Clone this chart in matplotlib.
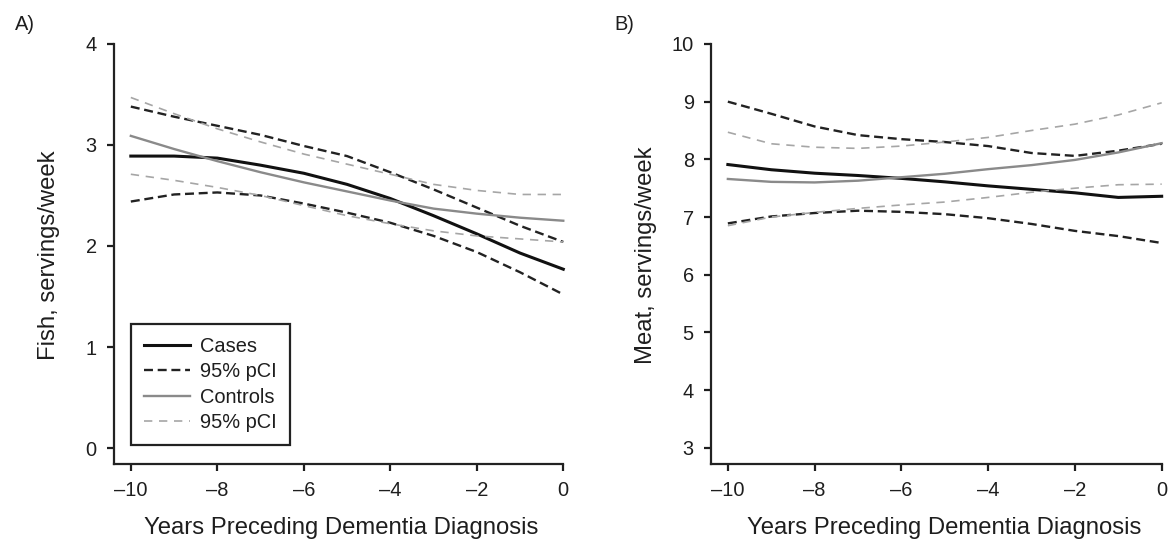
import numpy as np
import matplotlib.pyplot as plt

plt.rcParams['font.family'] = ['Liberation Sans', 'DejaVu Sans']

years = [-10, -9, -8, -7, -6, -5, -4, -3, -2, -1, 0]

# A) Fish
fish_cases = [2.89, 2.89, 2.87, 2.80, 2.72, 2.61, 2.47, 2.30, 2.12, 1.93, 1.77]
fish_cases_hi = [3.38, 3.28, 3.19, 3.10, 2.99, 2.89, 2.73, 2.56, 2.38, 2.20, 2.04]
fish_cases_lo = [2.44, 2.51, 2.53, 2.50, 2.42, 2.33, 2.23, 2.10, 1.94, 1.74, 1.52]
fish_ctrl = [3.09, 2.96, 2.84, 2.73, 2.63, 2.54, 2.45, 2.37, 2.32, 2.28, 2.25]
fish_ctrl_hi = [3.47, 3.31, 3.16, 3.03, 2.91, 2.81, 2.71, 2.61, 2.55, 2.51, 2.51]
fish_ctrl_lo = [2.71, 2.65, 2.58, 2.50, 2.40, 2.30, 2.22, 2.15, 2.10, 2.07, 2.04]

# B) Meat
meat_cases = [7.91, 7.82, 7.76, 7.72, 7.67, 7.61, 7.54, 7.48, 7.42, 7.34, 7.36]
meat_cases_hi = [9.00, 8.79, 8.57, 8.42, 8.35, 8.30, 8.23, 8.11, 8.06, 8.15, 8.27]
meat_cases_lo = [6.89, 7.01, 7.07, 7.11, 7.09, 7.05, 6.98, 6.88, 6.76, 6.67, 6.55]
meat_ctrl = [7.66, 7.61, 7.60, 7.63, 7.69, 7.75, 7.83, 7.90, 7.99, 8.12, 8.28]
meat_ctrl_hi = [8.47, 8.27, 8.21, 8.19, 8.23, 8.30, 8.38, 8.50, 8.61, 8.77, 8.98]
meat_ctrl_lo = [6.85, 7.00, 7.08, 7.15, 7.21, 7.26, 7.34, 7.43, 7.50, 7.56, 7.57]

xticks = [-10, -8, -6, -4, -2, 0]
labels = ['Cases', '95% pCI', 'Controls', '95% pCI']

fig = plt.figure(figsize=(11.74, 5.44), dpi=100)
axA = fig.add_axes([0.0967, 0.1471, 0.3831, 0.7721])
axB = fig.add_axes([0.6052, 0.1471, 0.3843, 0.7721])

black = '#111111'
grey = '#8a8a8a'
grey_l = '#a6a6a6'
txt = '#1e1e1e'


def draw(ax, c, c_hi, c_lo, k, k_hi, k_lo, xlab_x):
    ax.plot(years, c, color=black, lw=2.2, label=labels[0], clip_on=False)
    ax.plot(years, c_hi, color='#222222', lw=1.7, ls=(0, (3.8, 2.0)), label=labels[1], clip_on=False)
    ax.plot(years, c_lo, color='#222222', lw=1.7, ls=(0, (3.8, 2.0)), clip_on=False)
    ax.plot(years, k, color=grey, lw=1.7, label=labels[2], clip_on=False)
    ax.plot(years, k_hi, color=grey_l, lw=1.2, ls=(0, (5, 4)), label=labels[3], clip_on=False)
    ax.plot(years, k_lo, color=grey_l, lw=1.2, ls=(0, (5, 4)), clip_on=False)
    ax.set_xlim(-10.4, 0)
    ax.set_xticks(xticks)
    ax.set_xticklabels(['\u2013' + str(-t) if t < 0 else str(t) for t in xticks])
    for s in ['top', 'right']:
        ax.spines[s].set_visible(False)
    for s in ['left', 'bottom']:
        ax.spines[s].set_linewidth(1.6)
        ax.spines[s].set_color('#222222')
    ax.tick_params(axis='both', width=1.6, length=5, labelsize=14.4, colors=txt)
    ax.tick_params(axis='x', pad=7)
    ax.tick_params(axis='y', pad=7)
    ax.set_xlabel('Years Preceding Dementia Diagnosis', fontsize=17.2, color=txt)
    ax.xaxis.set_label_coords(xlab_x, -0.126)


draw(axA, fish_cases, fish_cases_hi, fish_cases_lo, fish_ctrl, fish_ctrl_hi, fish_ctrl_lo, 0.507)
axA.set_ylim(-0.158, 4)
axA.set_yticks([0, 1, 2, 3, 4])
axA.set_ylabel('Fish, servings/week', fontsize=17.2, color=txt)
axA.yaxis.set_label_coords(-0.119, 0.497)
leg = axA.legend(loc='lower left', bbox_to_anchor=(-10.0, 0.03), bbox_transform=axA.transData,
                 borderaxespad=0, fontsize=14.4, handlelength=2.3, handletextpad=0.5,
                 labelspacing=0.32, borderpad=0.65, fancybox=False, framealpha=1)
leg.get_frame().set_edgecolor('#222222')
leg.get_frame().set_linewidth(1.6)
for t in leg.get_texts():
    t.set_color(txt)

draw(axB, meat_cases, meat_cases_hi, meat_cases_lo, meat_ctrl, meat_ctrl_hi, meat_ctrl_lo, 0.517)
axB.set_ylim(2.72, 10)
axB.set_yticks([3, 4, 5, 6, 7, 8, 9, 10])
axB.set_ylabel('Meat, servings/week', fontsize=17.2, color=txt)
axB.yaxis.set_label_coords(-0.1186, 0.497)

fig.text(25 / 1174, 1 - 25 / 544, 'A)', fontsize=14.4, ha='center', va='center', color=txt)
fig.text(624 / 1174, 1 - 25 / 544, 'B)', fontsize=14.4, ha='center', va='center', color=txt)

fig.savefig('out.png', dpi=100)
